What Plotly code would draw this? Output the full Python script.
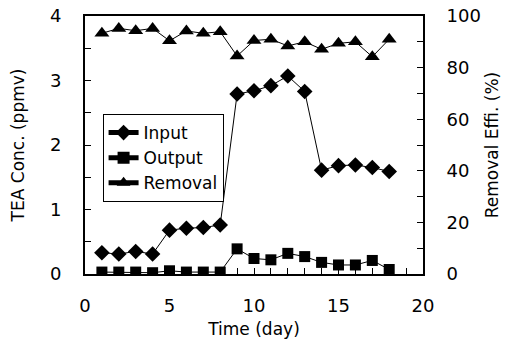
import plotly.graph_objects as go

days = list(range(1, 19))
input_ppmv = [0.33, 0.31, 0.35, 0.31, 0.68, 0.71, 0.72, 0.76, 2.79, 2.84, 2.92, 3.07, 2.83,
              1.61, 1.68, 1.69, 1.65, 1.59]
output_ppmv = [0.03, 0.03, 0.03, 0.02, 0.05, 0.03, 0.03, 0.03, 0.39, 0.24, 0.22, 0.32, 0.27,
               0.18, 0.14, 0.14, 0.21, 0.07]
removal_pct = [93.3, 95.2, 94.3, 95.2, 90.4, 94.2, 93.3, 93.9, 84.5, 90.5, 91.0, 88.4, 90.0,
               87.1, 89.4, 90.0, 84.2, 91.0]

FAM = "DejaVu Sans, Arial, sans-serif"
font = dict(family=FAM, size=18, color="black")
title_font = dict(family=FAM, size=17, color="black")

fig = go.Figure()
fig.add_trace(go.Scatter(x=days, y=input_ppmv, name="Input", mode="lines+markers",
                         line=dict(color="black", width=1),
                         marker=dict(symbol="diamond", size=12, color="black")))
fig.add_trace(go.Scatter(x=days, y=output_ppmv, name="Output", mode="lines+markers",
                         line=dict(color="black", width=1),
                         marker=dict(symbol="square", size=11, color="black")))
fig.add_trace(go.Scatter(x=days, y=removal_pct, name="Removal", mode="lines+markers",
                         yaxis="y2",
                         line=dict(color="black", width=1),
                         marker=dict(symbol="triangle-up", size=13, color="black")))

# page body has an 8px default margin; figure is sized so the page does not scroll
fig.update_layout(
    width=494, height=331,
    margin=dict(l=77, r=79, t=8, b=65),
    paper_bgcolor="white", plot_bgcolor="white",
    font=font,
    showlegend=True,
    legend=dict(x=0.052, y=0.62, xanchor="left", yanchor="top",
                bgcolor="white", bordercolor="black", borderwidth=1,
                font=dict(family=FAM, size=17), tracegroupgap=0, itemsizing="constant"),
    xaxis=dict(range=[0, 20], dtick=5, tick0=0, showline=True, linecolor="black",
               linewidth=2, mirror=True, ticks="inside", ticklen=6, tickcolor="black",
               minor=dict(dtick=1, ticks="inside", ticklen=6, tickcolor="black"),
               showgrid=False, zeroline=False, ticklabelstandoff=14, automargin=False,
               ticklabeloverflow="allow",
               title=dict(text="Time (day)", standoff=10, font=title_font)),
    yaxis=dict(range=[0, 4], dtick=1, showline=True, linecolor="black", linewidth=2,
               ticks="inside", ticklen=6, tickcolor="black",
               minor=dict(dtick=0.5, ticks="inside", ticklen=6, tickcolor="black"),
               showgrid=False, zeroline=False, ticklabelstandoff=18, automargin=False,
               ticklabeloverflow="allow",
               title=dict(text="TEA Conc. (ppmv)", standoff=22, font=title_font)),
    yaxis2=dict(range=[0, 100], dtick=20, overlaying="y", side="right", showline=True,
                linecolor="black", linewidth=2, ticks="inside", ticklen=6, tickcolor="black",
                minor=dict(dtick=10, ticks="inside", ticklen=6, tickcolor="black"),
                showgrid=False, zeroline=False, ticklabelstandoff=18, automargin=False,
                ticklabeloverflow="allow",
                title=dict(text="Removal Effi. (%)", standoff=14, font=title_font)),
)

fig.write_html("out.html")
